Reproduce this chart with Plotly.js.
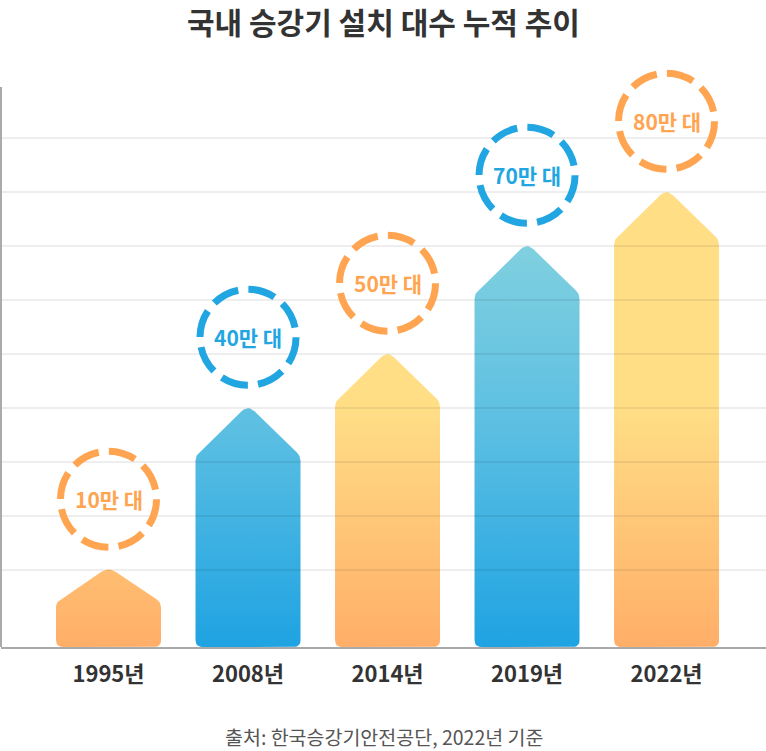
<!DOCTYPE html>
<html>
<head>
<meta charset="utf-8">
<script src="https://cdn.plot.ly/plotly-3.0.1.min.js"></script>
<style>
  html, body { margin: 0; padding: 0; background: #fff; }
  #chart { width: 766px; height: 751px; }
</style>
</head>
<body>
<div id="chart"></div>
<script>
// 국내 승강기 설치 대수 (단위: 만 대)
const years = ['1995년', '2008년', '2014년', '2019년', '2022년'];
const counts = [10, 40, 50, 70, 80];
const labels = ['10만 대', '40만 대', '50만 대', '70만 대', '80만 대'];
const tones = ['orange', 'blue', 'orange', 'blue', 'orange'];
const gridValues = [10, 20, 30, 40, 50, 60, 70, 80, 90];

const W = 766, H = 751;
// plot area runs up to y=40 so the top ring is not clipped;
// the visible left axis line only starts at y=87
const margin = { l: 1, r: 0, t: 40, b: 104 };
const plotW = W - margin.l - margin.r;
const plotH = H - margin.t - margin.b;
const ky = 5.4;                      // px per 만 대
const zeroPx = 624;                  // pixel row of 0 만 대
const yRange = [-(H - margin.b - zeroPx) / ky, (zeroPx - margin.t) / ky];
const axisTop = (zeroPx - 87) / ky;
const xRange = [-0.7706, 4.713];
const kx = plotW / (xRange[1] - xRange[0]); // px per category

const colors = {
  orange: { line: '#ffa451', scale: [[0, '#ffae68'], [1, '#ffde86']], stop: 40 },
  blue: { line: '#22a6e2', scale: [[0, '#1fa3e2'], [0.55, '#5cbfe2'], [1, '#80d0df']], stop: 70 }
};

const FONT = 'Noto Sans CJK KR';

// pixel row -> paper y
function paperY(px) {
  return (H - margin.b - px) / plotH;
}

// round off the corners of a polygon given in px
function roundCorners(pts, radii, steps) {
  let out = [];
  for (let i = 0; i < pts.length; i++) {
    let p = pts[i];
    let a = pts[(i - 1 + pts.length) % pts.length];
    let b = pts[(i + 1) % pts.length];
    let da = Math.hypot(a[0] - p[0], a[1] - p[1]);
    let db = Math.hypot(b[0] - p[0], b[1] - p[1]);
    let r = Math.min(radii[i], da / 2, db / 2);
    let s = [p[0] + (a[0] - p[0]) / da * r, p[1] + (a[1] - p[1]) / da * r];
    let e = [p[0] + (b[0] - p[0]) / db * r, p[1] + (b[1] - p[1]) / db * r];
    for (let k = 0; k <= steps; k++) {
      let t = k / steps;
      out.push([
        (1 - t) * (1 - t) * s[0] + 2 * (1 - t) * t * p[0] + t * t * e[0],
        (1 - t) * (1 - t) * s[1] + 2 * (1 - t) * t * p[1] + t * t * e[1]
      ]);
    }
  }
  out.push(out[0]);
  return out;
}

function arrowBar(i, value) {
  let hw = 52.5;
  let heightPx = (value - yRange[0]) * ky;
  let head = Math.min(48, 0.42 * heightPx);
  let tip = heightPx + 3; // rounding eats ~3px off the tip
  let pts = [
    [-hw, 0], [hw, 0], [hw, heightPx - head], [0, tip], [-hw, heightPx - head]
  ];
  let rounded = roundCorners(pts, [7, 7, 5, 9, 5], 6);
  return {
    x: rounded.map(p => i + p[0] / kx),
    y: rounded.map(p => yRange[0] + p[1] / ky)
  };
}

let data = counts.map(function (v, i) {
  let c = colors[tones[i]];
  let shape = arrowBar(i, v);
  return {
    x: shape.x,
    y: shape.y,
    mode: 'lines',
    line: { width: 0 },
    fill: 'toself',
    fillgradient: {
      type: 'vertical',
      start: yRange[0],
      stop: c.stop,
      colorscale: c.scale
    },
    hoverinfo: 'skip',
    showlegend: false
  };
});

const ringOffset = 13.1; // 만 대 above the arrow tip
const ringR = 48;

let shapes = gridValues.map(function (g) {
  return {
    type: 'line', xref: 'paper', yref: 'y',
    x0: 0, x1: 1, y0: g, y1: g,
    layer: 'above',
    line: { color: 'rgba(0,0,0,0.09)', width: 1.5 }
  };
});

// left axis line
shapes.push({
  type: 'line', xref: 'paper', yref: 'y',
  x0: 0, x1: 0, y0: yRange[0], y1: axisTop,
  layer: 'above',
  line: { color: '#aaa', width: 2 }
});

counts.forEach(function (v, i) {
  shapes.push({
    type: 'circle',
    xref: 'x', yref: 'y',
    xsizemode: 'pixel', ysizemode: 'pixel',
    xanchor: i, yanchor: v + ringOffset,
    x0: -ringR, x1: ringR, y0: -ringR, y1: ringR,
    line: { color: colors[tones[i]].line, width: 7, dash: '27.5px,10.2px' },
    layer: 'above'
  });
});

let annotations = counts.map(function (v, i) {
  return {
    x: i, y: v + ringOffset,
    xref: 'x', yref: 'y',
    text: labels[i],
    showarrow: false,
    font: { family: FONT, size: 21, weight: 'bold', color: colors[tones[i]].line }
  };
});

// title
annotations.push({
  x: 0.5, xref: 'paper',
  y: paperY(21), yref: 'paper',
  text: '국내 승강기 설치 대수 누적 추이',
  showarrow: false,
  yanchor: 'middle',
  font: { family: FONT, size: 30, weight: 'bold', color: '#333' }
});

annotations.push({
  x: 0.5, xref: 'paper',
  y: paperY(736), yref: 'paper',
  text: '출처: 한국승강기안전공단, 2022년 기준',
  showarrow: false,
  yanchor: 'middle',
  font: { family: FONT, size: 19.5, color: '#555' }
});

let layout = {
  width: W,
  height: H,
  margin: margin,
  paper_bgcolor: '#fff',
  plot_bgcolor: '#fff',
  xaxis: {
    range: xRange,
    tickvals: [0, 1, 2, 3, 4],
    ticktext: years,
    showgrid: false,
    zeroline: false,
    showline: true,
    linecolor: '#aaa',
    linewidth: 1.5,
    ticks: '',
    ticklabelstandoff: 7,
    tickfont: { family: FONT, size: 22, weight: 'bold', color: '#333' },
    fixedrange: true
  },
  yaxis: {
    range: yRange,
    showgrid: false,
    zeroline: false,
    showline: false,
    showticklabels: false,
    ticks: '',
    fixedrange: true
  },
  shapes: shapes,
  annotations: annotations,
  showlegend: false
};

Plotly.newPlot('chart', data, layout, { displayModeBar: false, staticPlot: true });
</script>
</body>
</html>
